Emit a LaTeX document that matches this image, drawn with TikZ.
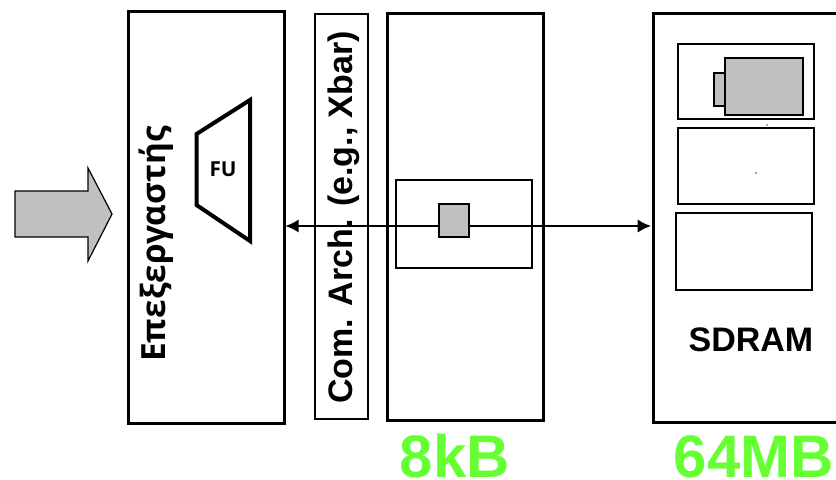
\documentclass[tikz,border=0pt]{standalone}
\usepackage{fontspec}
\setmainfont{Liberation Sans}
\newfontfamily\greekfont{Open Sans}
\definecolor{boxgray}{HTML}{C0C0C0}
\definecolor{sizegreen}{HTML}{66FF33}
\usetikzlibrary{arrows.meta}
\tikzset{
  heavybox/.style={rectangle, draw, line width=2.25pt, inner sep=0pt, outer sep=0pt},
  thinbox/.style={rectangle, draw, line width=1.5pt, inner sep=0pt, outer sep=0pt},
  graybox/.style={thinbox, fill=boxgray},
  sizelabel/.style={text=sizegreen, font=\bfseries\fontsize{45}{45}\selectfont, inner sep=0pt},
  speck/.style={circle, fill=black!70, inner sep=0pt, minimum size=1.2pt}
}

\begin{document}
\begin{tikzpicture}[x=0.75pt, y=-0.75pt]
    \useasboundingbox (0,0) rectangle (836,479);

    \draw[line width=0.9pt, fill=boxgray] (15,191) -- (88,191) -- (88,168) -- (112,214) -- (88,261) -- (88,237) -- (15,237) -- cycle;

    \node[heavybox, minimum width=117pt, minimum height=309pt] (cpu) at (206,217) {};
    \node[thinbox, minimum width=39.75pt, minimum height=303.75pt] (comm) at (341.5,216.5) {};
    \node[heavybox, minimum width=117pt, minimum height=305.25pt] (cache) at (465,216.5) {};
    \node[heavybox, minimum width=139.5pt, minimum height=306.75pt] (mem) at (746,217.5) {};

    \node[thinbox, minimum width=102pt, minimum height=66pt] (line) at (464,224) {};
    \node[thinbox, minimum width=102pt, minimum height=56.25pt] (row1) at (746,81.5) {};
    \node[thinbox, minimum width=102pt, minimum height=57pt] (row2) at (746,166) {};
    \node[thinbox, minimum width=102pt, minimum height=57.75pt] (row3) at (744,251.5) {};

    \node[rotate=90, font=\greekfont\bfseries\fontsize{25}{25}\selectfont, inner sep=0pt] (cpulabel) at (156,244) {Επεξεργαστής};
    \node[rotate=90, font=\bfseries\fontsize{25.5}{26}\selectfont, inner sep=0pt] (commlabel) at (344,217.5) {Com. Arch. (e.g., Xbar)};
    \node[font=\greekfont\bfseries\fontsize{15.5}{16}\selectfont, inner sep=0pt] (fu) at (223,169) {FU};
    \node[font=\bfseries\fontsize{25.5}{26}\selectfont, inner sep=0pt] (sdram) at (751,340) {SDRAM};

    \draw[line width=3pt, line join=miter] (196.5,134) -- (250,100) -- (250,241) -- (196.5,205) -- cycle;

    \coordinate (bus) at (454,226);
    \draw[{Latex[length=10pt,width=10pt]}-{Latex[length=10pt,width=10pt]}, line width=1.5pt, shorten <=1pt, shorten >=1.5pt] (cpu.east |- bus) -- (mem.west |- bus);

    \node[graybox, minimum width=22.5pt, minimum height=24.75pt] (cell) at (454,220.5) {};
    \node[graybox, minimum width=8.25pt, minimum height=24.75pt] (tab) at (719.5,89.5) {};
    \node[graybox, minimum width=58.5pt, minimum height=42.75pt] (page) at (764,86.5) {};

    \node[speck] (speck1) at (767,125) {};
    \node[speck] (speck2) at (756,173) {};

    \node[sizelabel, anchor=base] (cachesize) at (455,477) {8kB};
    \node[sizelabel, anchor=base] (memsize) at (754,477) {64MB};
\end{tikzpicture}
\end{document}
